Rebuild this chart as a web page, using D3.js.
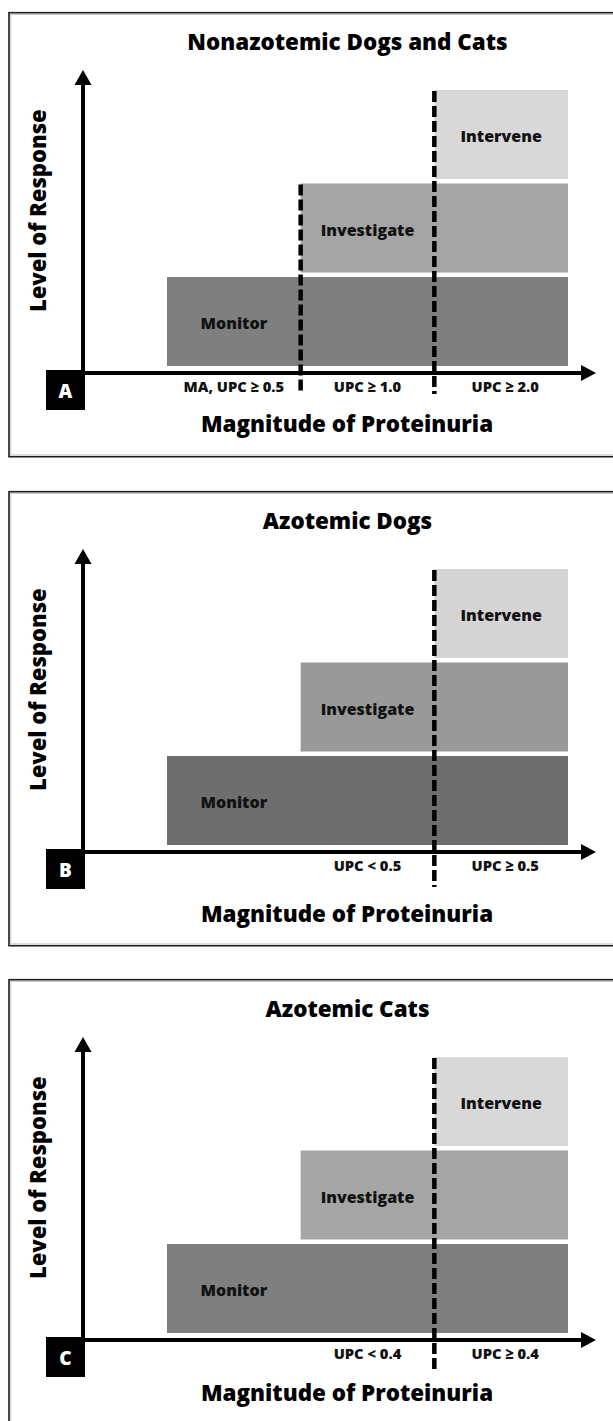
<!DOCTYPE html>
<html>
<head>
<meta charset="utf-8">
<script src="https://cdn.jsdelivr.net/npm/d3@7"></script>
<style>
  body { margin: 0; background: #fff; }
  svg { display: block; }
  text { font-family: 'Open Sans', 'DejaVu Sans', sans-serif; font-weight: 800; }
</style>
</head>
<body>
<svg></svg>
<script>
// chart content
const panelIds = ['A', 'B', 'C'];
const titles = ['Nonazotemic Dogs and Cats', 'Azotemic Dogs', 'Azotemic Cats'];
const levels = ['Monitor', 'Investigate', 'Intervene'];
const categories = [0, 1, 2];
const tickLabels = [
  ['MA, UPC \u2265 0.5', 'UPC \u2265 1.0', 'UPC \u2265 2.0'],
  ['', 'UPC < 0.5', 'UPC \u2265 0.5'],
  ['', 'UPC < 0.4', 'UPC \u2265 0.4']
];
// category where each level begins (same order as levels)
const levelStart = [0, 1, 2];
// category boundaries marked with a dashed cut-off line
const cutoffs = [[1, 2], [2], [2]];
const yTitle = 'Level of Response';
const xTitle = 'Magnitude of Proteinuria';

// styles / layout per panel
const shades = [
  ['#7f7f7f', '#a5a5a5', '#d8d8d8'],
  ['#6e6e6e', '#999999', '#d4d4d4'],
  ['#7f7f7f', '#a5a5a5', '#d8d8d8']
];
const panelTop = [0, 479, 967];
const frameH = [444, 454, 470];
const dashEnd = [394, 408, 402];
const xTitleY = [432, 443, 434];

let width = 613, height = 1421;
let svg = d3.select('svg').attr('width', width).attr('height', height);

let xScale = d3.scaleBand().domain(categories).range([167, 568]);
let yScale = d3.scaleBand().domain(levels).range([366, 90]).paddingInner(0.048);
let axisY = 373, axisX = 83;

panelIds.forEach((id, p) => {
  let g = svg.append('g').attr('transform', `translate(0,${panelTop[p]})`);

  // frame (right side runs off the page)
  g.append('rect')
    .attr('x', 9).attr('y', 12.7)
    .attr('width', 620).attr('height', frameH[p])
    .attr('fill', 'none').attr('stroke', '#1c1c1c').attr('stroke-width', 1.6);
  g.append('rect')
    .attr('x', 10.8).attr('y', 14.5)
    .attr('width', 620).attr('height', frameH[p] - 3.6)
    .attr('fill', 'none').attr('stroke', '#c8c8c8').attr('stroke-width', 1);

  g.append('text')
    .attr('x', 347.5).attr('y', 50)
    .style('font-size', '22.4px')
    .style('text-anchor', 'middle')
    .text(titles[p]);

  // response zones
  g.selectAll('rect.zone')
    .data(levels)
    .enter()
    .append('rect')
    .classed('zone', true)
    .attr('x', (d, i) => xScale(levelStart[i]))
    .attr('y', d => yScale(d))
    .attr('width', (d, i) => xScale.range()[1] - xScale(levelStart[i]))
    .attr('height', yScale.bandwidth())
    .attr('fill', (d, i) => shades[p][i]);

  g.selectAll('text.zone')
    .data(levels)
    .enter()
    .append('text')
    .classed('zone', true)
    .attr('x', (d, i) => xScale(levelStart[i]) + xScale.bandwidth() / 2)
    .attr('y', d => yScale(d) + yScale.bandwidth() / 2 + 7.5)
    .style('font-size', '16px')
    .style('text-anchor', 'middle')
    .style('fill', '#111')
    .text(d => d);

  // dashed cut-off lines
  g.selectAll('line.cut')
    .data(cutoffs[p])
    .enter()
    .append('line')
    .classed('cut', true)
    .attr('x1', d => xScale(d)).attr('x2', d => xScale(d))
    .attr('y1', d => yScale(levels[levelStart.indexOf(d)]) + 1)
    .attr('y2', dashEnd[p])
    .attr('stroke', '#000')
    .attr('stroke-width', 4.5)
    .attr('stroke-dasharray', '11,4');

  // arrow axes
  g.append('path')
    .attr('d', `M${axisX - 2},${axisY}H582`)
    .attr('stroke', '#000').attr('stroke-width', 4);
  g.append('path')
    .attr('d', `M596,${axisY}L581,${axisY - 8}L581,${axisY + 8}Z`)
    .attr('fill', '#000');
  g.append('path')
    .attr('d', `M${axisX},${axisY + 2}V84`)
    .attr('stroke', '#000').attr('stroke-width', 4);
  g.append('path')
    .attr('d', `M${axisX},70L${axisX - 8.5},85L${axisX + 8.5},85Z`)
    .attr('fill', '#000');

  let xAxis = d3.axisBottom(xScale)
    .tickSize(0)
    .tickPadding(9)
    .tickFormat(d => tickLabels[p][d]);

  let ax = g.append('g')
    .attr('transform', `translate(0,${axisY})`)
    .call(xAxis);
  ax.select('.domain').remove();
  ax.selectAll('text')
    .attr('dx', d => d === categories.length - 1 ? 4 : 0)
    .style('font-family', "'Open Sans', sans-serif")
    .style('font-weight', '800')
    .style('font-size', '14.7px')
    .style('fill', '#111');

  // panel letter
  g.append('rect')
    .attr('x', 46).attr('y', 370)
    .attr('width', 39).attr('height', 40)
    .attr('fill', '#000');
  g.append('text')
    .attr('x', 65.5).attr('y', 398)
    .style('font-size', '19px')
    .style('text-anchor', 'middle')
    .style('fill', '#fff')
    .text(id);

  g.append('text')
    .attr('x', 347).attr('y', xTitleY[p])
    .style('font-size', '22.4px')
    .style('text-anchor', 'middle')
    .text(xTitle);

  g.append('text')
    .attr('transform', 'translate(46,210.7) rotate(-90)')
    .style('font-size', '22px')
    .style('text-anchor', 'middle')
    .text(yTitle);
});
</script>
</body>
</html>
